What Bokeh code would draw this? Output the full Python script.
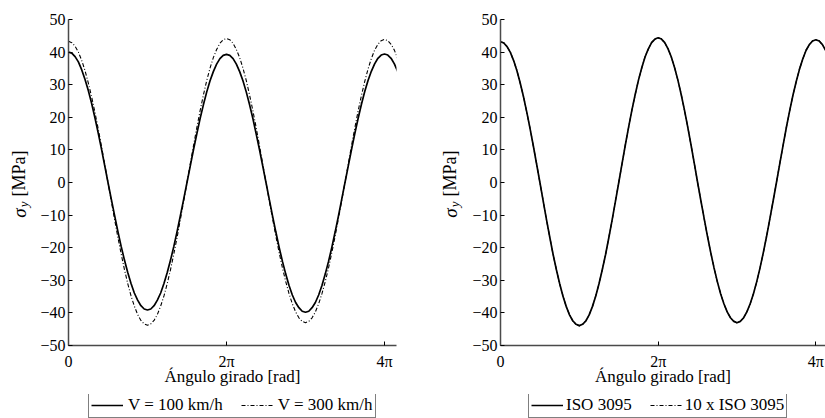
import math
from bokeh.plotting import figure
from bokeh.models import Range1d, FixedTicker, Legend, LegendItem
from bokeh.core.properties import value
from bokeh.layouts import row, column
from bokeh.embed import file_html
from bokeh.resources import INLINE

# ---- data (angle in multiples of pi, read every pi/24) ----
theta_pi = [k / 24 for k in range(101)]

sigma_v100 = [40.0, 39.7, 38.6, 37.0, 34.6, 31.7, 28.3, 24.4, 20.0, 15.3, 10.4, 5.2, 0.0,
              -5.1, -10.1, -15.0, -19.6, -23.8, -27.6, -31.0, -33.9, -36.1, -37.8, -38.8, -39.1,
              -38.8, -37.8, -36.1, -33.9, -31.0, -27.6, -23.8, -19.6, -15.0, -10.1, -5.1, 0.0,
              5.1, 10.2, 15.0, 19.7, 23.9, 27.8, 31.2, 34.0, 36.3, 38.0, 39.0, 39.3,
              39.0, 38.0, 36.3, 34.0, 31.2, 27.8, 23.9, 19.7, 15.0, 10.2, 5.1, 0.0,
              -5.2, -10.3, -15.2, -19.9, -24.2, -28.1, -31.6, -34.5, -36.8, -38.4, -39.5, -39.8,
              -39.5, -38.4, -36.8, -34.5, -31.6, -28.1, -24.2, -19.9, -15.2, -10.3, -5.2, 0.0,
              5.1, 10.2, 15.1, 19.7, 24.0, 27.9, 31.3, 34.1, 36.4, 38.1, 39.1, 39.4,
              39.1, 38.1, 36.4, 34.1]

sigma_v300 = [43.3, 42.9, 41.8, 40.0, 37.5, 34.4, 30.6, 26.4, 21.7, 16.6, 11.2, 5.7, 0.0,
              -5.7, -11.3, -16.8, -21.9, -26.7, -31.0, -34.8, -37.9, -40.5, -42.3, -43.4, -43.8,
              -43.4, -42.3, -40.5, -37.9, -34.8, -31.0, -26.7, -21.9, -16.8, -11.3, -5.7, 0.0,
              5.8, 11.4, 16.9, 22.1, 26.9, 31.3, 35.1, 38.3, 40.8, 42.7, 43.8, 44.2,
              43.8, 42.7, 40.8, 38.3, 35.1, 31.3, 26.9, 22.1, 16.9, 11.4, 5.8, 0.0,
              -5.6, -11.1, -16.5, -21.5, -26.2, -30.4, -34.1, -37.2, -39.7, -41.5, -42.6, -43.0,
              -42.6, -41.5, -39.7, -37.2, -34.1, -30.4, -26.2, -21.5, -16.5, -11.1, -5.6, 0.0,
              5.7, 11.4, 16.8, 22.0, 26.7, 31.0, 34.8, 38.0, 40.6, 42.4, 43.5, 43.9,
              43.5, 42.4, 40.6, 38.0]

sigma_iso = [43.2, 42.8, 41.7, 39.9, 37.4, 34.3, 30.5, 26.3, 21.6, 16.5, 11.2, 5.6, 0.0,
             -5.7, -11.4, -16.8, -22.0, -26.7, -31.0, -34.8, -38.0, -40.6, -42.4, -43.5, -43.9,
             -43.5, -42.4, -40.6, -38.0, -34.8, -31.0, -26.7, -22.0, -16.8, -11.4, -5.7, 0.0,
             5.8, 11.5, 17.0, 22.2, 27.0, 31.4, 35.2, 38.5, 41.0, 42.9, 44.0, 44.4,
             44.0, 42.9, 41.0, 38.5, 35.2, 31.4, 27.0, 22.2, 17.0, 11.5, 5.8, 0.0,
             -5.6, -11.1, -16.5, -21.5, -26.2, -30.4, -34.1, -37.2, -39.7, -41.5, -42.6, -43.0,
             -42.6, -41.5, -39.7, -37.2, -34.1, -30.4, -26.2, -21.5, -16.5, -11.1, -5.6, 0.0,
             5.7, 11.3, 16.8, 21.9, 26.7, 30.9, 34.7, 37.9, 40.5, 42.3, 43.4, 43.8,
             43.4, 42.3, 40.5, 37.9]

sigma_iso10 = [43.1, 42.9, 41.6, 40.0, 37.3, 34.4, 30.4, 26.4, 21.5, 16.6, 11.1, 5.7, -0.1,
               -5.6, -11.5, -16.7, -22.1, -26.6, -31.1, -34.7, -38.1, -40.5, -42.5, -43.4, -44.0,
               -43.4, -42.5, -40.5, -38.1, -34.7, -31.1, -26.6, -22.1, -16.7, -11.5, -5.6, 0.1,
               5.7, 11.6, 16.9, 22.3, 26.9, 31.5, 35.1, 38.6, 40.9, 43.0, 43.9, 44.3,
               44.1, 42.8, 41.1, 38.4, 35.3, 31.3, 27.1, 22.1, 17.1, 11.4, 5.9, -0.1,
               -5.5, -11.2, -16.4, -21.6, -26.1, -30.5, -34.0, -37.3, -39.6, -41.6, -42.5, -43.1,
               -42.5, -41.6, -39.6, -37.3, -34.0, -30.5, -26.1, -21.6, -16.4, -11.2, -5.5, 0.1,
               5.8, 11.2, 16.9, 21.8, 26.8, 30.8, 34.8, 37.8, 40.6, 42.2, 43.5, 43.7,
               43.5, 42.2, 40.6, 37.8]

x_ticks_pi = [0, 2, 4]
x_tick_labels = ["0", "2π", "4π"]
y_ticks = [-50, -40, -30, -20, -10, 0, 10, 20, 30, 40, 50]
y_tick_labels = ["−50", "−40", "−30", "−20", "−10", "0", "10", "20", "30", "40", "50"]

x_title = "Ángulo girado [rad]"
y_title_parts = ["σ", "y", "[MPa]"]
left_names = ["V = 100 km/h", "V = 300 km/h"]
right_names = ["ISO 3095", "10 x ISO 3095"]

FONT = "Liberation Serif"
AXIS_COLOR = "#4a4a4a"
TOP, BOTTOM, H = 19, 49, 394
LEG_H = 24
YPANEL = 31
SOLID = dict(line_color="black", line_width=1.7)
DASHDOT = dict(line_color="black", line_width=1.1, line_dash="4 2 1 2")


def make_ylabel_fig(width, center_x):
    f = figure(width=width, height=H, output_backend="svg", toolbar_location=None,
               x_range=Range1d(0, width), y_range=Range1d(-50, 50),
               x_axis_location=None, y_axis_location=None,
               min_border_left=0, min_border_right=0,
               min_border_top=TOP, min_border_bottom=BOTTOM)
    f.outline_line_color = None
    f.xgrid.visible = False
    f.ygrid.visible = False
    f.text(x=[center_x], y=[-10.8], text=[y_title_parts[0]], angle=math.pi / 2,
           text_font=value(FONT), text_font_style=value("italic"), text_font_size="19px",
           text_color="black", text_align="left", text_baseline="middle")
    f.text(x=[center_x + 4], y=[-7.6], text=[y_title_parts[1]], angle=math.pi / 2,
           text_font=value(FONT), text_font_style=value("italic"), text_font_size="13px",
           text_color="black", text_align="left", text_baseline="middle")
    f.text(x=[center_x], y=[-4.3], text=[y_title_parts[2]], angle=math.pi / 2,
           text_font=value(FONT), text_font_style=value("normal"), text_font_size="18px",
           text_color="black", text_align="left", text_baseline="middle")
    return f


def make_fig(width, b_left, b_right, x_end):
    p = figure(width=width, height=H, output_backend="svg", toolbar_location=None,
               x_range=Range1d(0, x_end), y_range=Range1d(-50, 50),
               min_border_left=b_left, min_border_right=b_right,
               min_border_top=TOP, min_border_bottom=BOTTOM)
    p.outline_line_color = None
    p.xgrid.visible = False
    p.ygrid.visible = False

    xa = p.xaxis[0]
    xa.ticker = FixedTicker(ticks=x_ticks_pi)
    xa.major_label_overrides = {t: s for t, s in zip(x_ticks_pi, x_tick_labels)}
    xa.axis_label = x_title
    xa.axis_label_text_font = FONT
    xa.axis_label_text_font_style = "normal"
    xa.axis_label_text_font_size = "17px"
    xa.axis_label_text_color = "black"
    xa.axis_label_standoff = -6
    xa.major_label_text_font = FONT
    xa.major_label_text_font_size = "16px"
    xa.major_label_text_color = "black"
    xa.major_label_standoff = 7

    ya = p.yaxis[0]
    ya.ticker = FixedTicker(ticks=y_ticks)
    ya.major_label_overrides = {t: s for t, s in zip(y_ticks, y_tick_labels)}
    ya.major_label_text_font = FONT
    ya.major_label_text_font_size = "16px"
    ya.major_label_text_color = "black"
    ya.major_label_standoff = 3

    for ax in (xa, ya):
        ax.axis_line_color = AXIS_COLOR
        ax.axis_line_width = 1.5
        ax.major_tick_line_color = "black"
        ax.major_tick_in = 4
        ax.major_tick_out = 0
        ax.minor_tick_line_color = None
    return p


def make_legend_fig(width, names, x_off, spacing, standoff, glyph_w):
    f = figure(width=width, height=LEG_H, output_backend="svg", toolbar_location=None,
               x_range=Range1d(0, width), y_range=Range1d(0, LEG_H),
               x_axis_location=None, y_axis_location=None,
               min_border_left=0, min_border_right=0, min_border_top=0, min_border_bottom=0)
    f.outline_line_color = None
    f.xgrid.visible = False
    f.ygrid.visible = False
    # legend samples: renderers carry only the line styles (NaN point, nothing drawn)
    ra = f.line(x=[math.nan], y=[math.nan], **SOLID)
    rb = f.line(x=[math.nan], y=[math.nan], **DASHDOT)
    lg = Legend(items=[LegendItem(label=names[0], renderers=[ra]),
                       LegendItem(label=names[1], renderers=[rb])],
                orientation="horizontal", location=(x_off, 0))
    lg.label_text_font = FONT
    lg.label_text_font_size = "17px"
    lg.label_text_color = "black"
    lg.border_line_color = "black"
    lg.border_line_width = 1
    lg.background_fill_color = "white"
    lg.background_fill_alpha = 1.0
    lg.padding = 2
    lg.spacing = spacing
    lg.margin = 0
    lg.label_standoff = standoff
    lg.glyph_width = glyph_w
    lg.glyph_height = 18
    lg.label_height = 18
    f.add_layout(lg, "center")
    return f


# ---- left panel: frame from x=68 to 396 ----
lab1 = make_ylabel_fig(68 - YPANEL, 18.5)
p1 = make_fig(412 - (68 - YPANEL), YPANEL, 16, 4.152)
p1.line(theta_pi, sigma_v100, **SOLID)
p1.line(theta_pi, sigma_v300, **DASHDOT)
leg1 = make_legend_fig(412, left_names, 88, 18, 5, 32)

# ---- right panel: frame from x=500 to 825 ----
lab2 = make_ylabel_fig(500 - 412 - YPANEL, 37.5)
p2 = make_fig(825 - 500 + YPANEL, YPANEL, 0, 4.122)
p2.line(theta_pi, sigma_iso10, **DASHDOT)
p2.line(theta_pi, sigma_iso, **SOLID)
leg2 = make_legend_fig(413, right_names, 116, 18, 3, 32)

layout = column(row(lab1, p1, lab2, p2, spacing=0), row(leg1, leg2, spacing=0), spacing=0)
open("out.html", "w").write(file_html(layout, INLINE))
